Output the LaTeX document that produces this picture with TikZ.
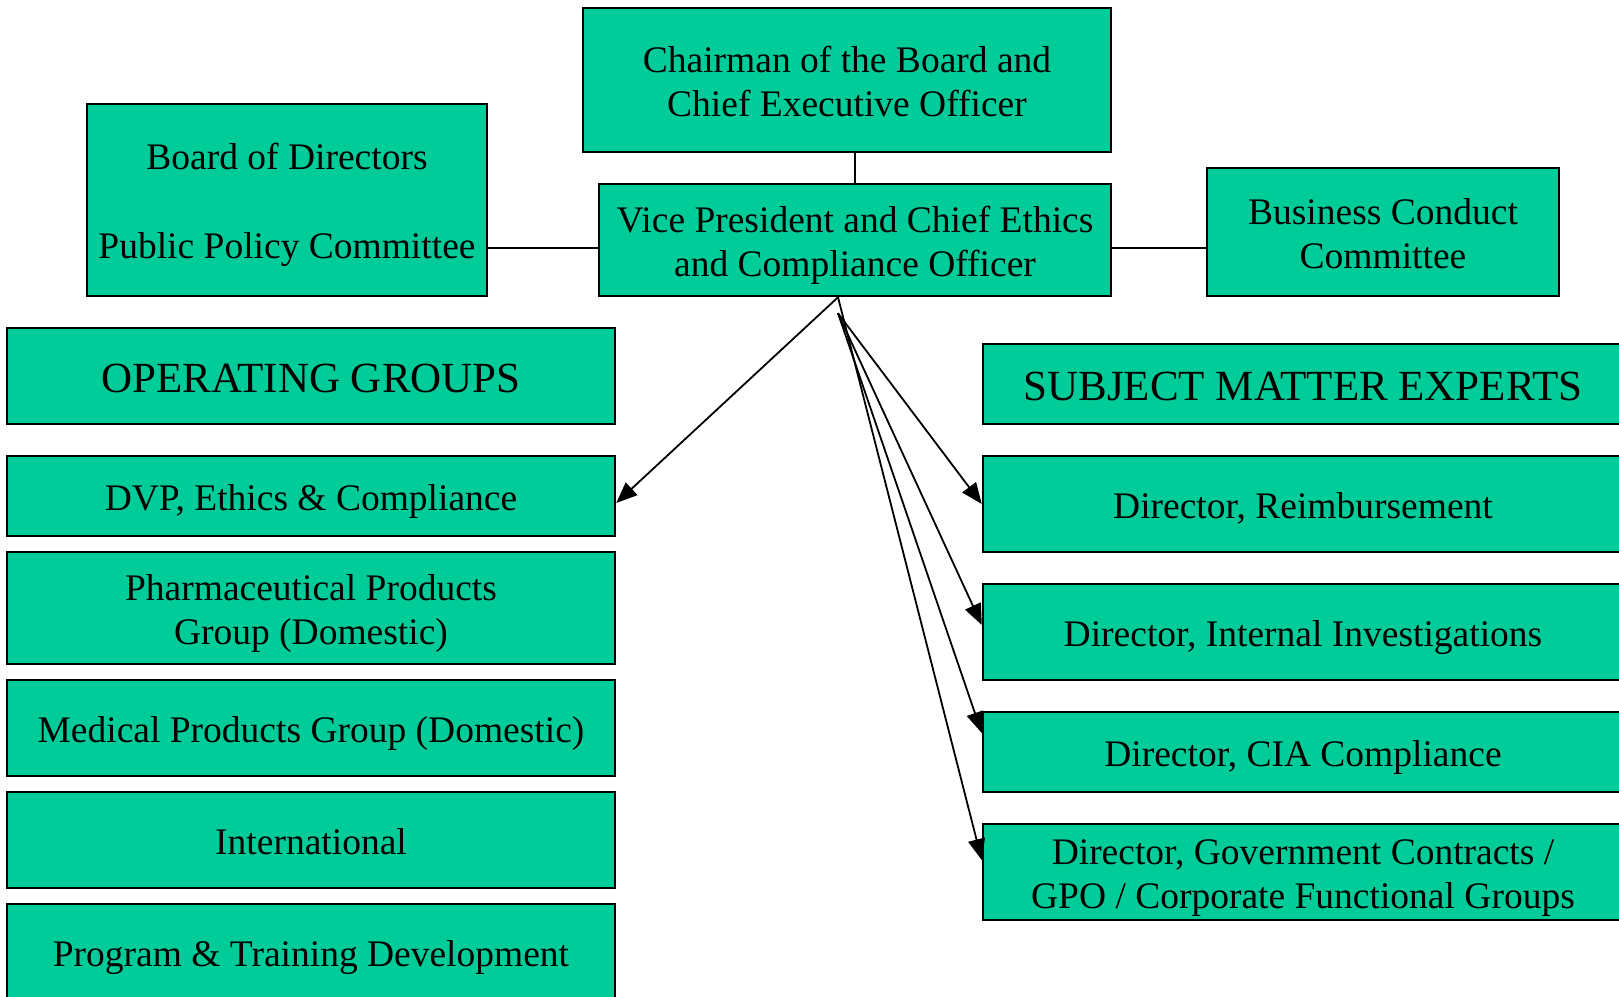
\documentclass[tikz,border=0pt]{standalone}
\usepackage{fontspec}
\setmainfont{Liberation Serif}
\usetikzlibrary{arrows.meta,calc}
\definecolor{boxgreen}{RGB}{0,204,153}

% fixed line top / line bottom, so descenders do not move the text
\newcommand{\linetop}{\rule{0pt}{0.98em}}
\newcommand{\linebot}{\rule[-0.21em]{0pt}{0.21em}}

\tikzset{
  orgbox/.style={draw, fill=boxgreen, line width=2.5pt, inner sep=0pt,
    align=center, font=\fontsize{37.5}{44.5}\selectfont},
  headbox/.style={orgbox, font=\fontsize{43}{50}\selectfont},
  link/.style={line width=1.8pt},
  arrowlink/.style={link, -{Triangle[length=21pt,width=17pt]}}
}

\begin{document}
\begin{tikzpicture}[x=1pt, y=-1pt]
  \useasboundingbox (0,0) rectangle (1619,996);

  % top row
  \node[orgbox, minimum width=528, minimum height=144] (chair) at (847,80)
    {\linetop Chairman of the Board and\\Chief Executive Officer\linebot};
  \node[orgbox, minimum width=400, minimum height=192] (board) at (287,200)
    {\linetop Board of Directors\\\mbox{}\\Public Policy Committee\linebot};
  \node[orgbox, minimum width=512, minimum height=112] (vp) at (855,240)
    {\linetop Vice President and Chief Ethics\\and Compliance Officer\linebot};
  \node[orgbox, minimum width=352, minimum height=128] (bcc) at (1383,232)
    {\linetop Business Conduct\\Committee\linebot};

  % left column
  \node[headbox, minimum width=608, minimum height=96] (opgroups) at (311,376)
    {\linetop OPERATING GROUPS\linebot};
  \node[orgbox, minimum width=608, minimum height=80] (dvp) at (311,496)
    {\linetop DVP, Ethics \& Compliance\linebot};
  \node[orgbox, minimum width=608, minimum height=112] (pharma) at (311,608)
    {\linetop Pharmaceutical Products\\Group (Domestic)\linebot};
  \node[orgbox, minimum width=608, minimum height=96] (medical) at (311,728)
    {\linetop Medical Products Group (Domestic)\linebot};
  \node[orgbox, minimum width=608, minimum height=96] (intl) at (311,840)
    {\linetop International\linebot};
  \node[orgbox, minimum width=608, minimum height=96] (program) at (311,952)
    {\linetop Program \& Training Development\linebot};

  % right column
  \node[headbox, minimum width=640, minimum height=80] (sme) at (1303,384)
    {\linetop SUBJECT MATTER EXPERTS\linebot};
  \node[orgbox, minimum width=640, minimum height=96] (reimb) at (1303,504)
    {\linetop Director, Reimbursement\linebot};
  \node[orgbox, minimum width=640, minimum height=96] (invest) at (1303,632)
    {\linetop Director, Internal Investigations\linebot};
  \node[orgbox, minimum width=640, minimum height=80] (cia) at (1303,752)
    {\linetop Director, CIA Compliance\linebot};
  \node[orgbox, minimum width=640, minimum height=96] (gov) at (1303,872)
    {\linetop Director, Government Contracts /\\GPO / Corporate Functional Groups\linebot};

  % plain links
  \coordinate (vpleft) at ($(vp.west)+(0,8)$);
  \coordinate (vpright) at ($(vp.east)+(0,8)$);
  \draw[link] (vp.north) -- (vp.north |- chair.south);
  \draw[link] (vpleft) -- (vpleft -| board.east);
  \draw[link] (vpright) -- (vpright -| bcc.west);

  % arrows out of the VP box
  \coordinate (vpfoot) at ($(vp.south)+(-17,0)$);
  \coordinate (fan) at ($(vp.south)+(-17,16)$);
  \draw[arrowlink] (vpfoot) -- ($(dvp.east)+(0,7)$);
  \draw[arrowlink] (fan) -- (reimb.west);
  \draw[arrowlink] (fan) -- ($(invest.west)+(0,-7)$);
  \draw[arrowlink] (fan) -- ($(cia.west)+(0,-19)$);
  \draw[arrowlink] (vpfoot) -- ($(gov.west)+(0,-12)$);
\end{tikzpicture}
\end{document}
